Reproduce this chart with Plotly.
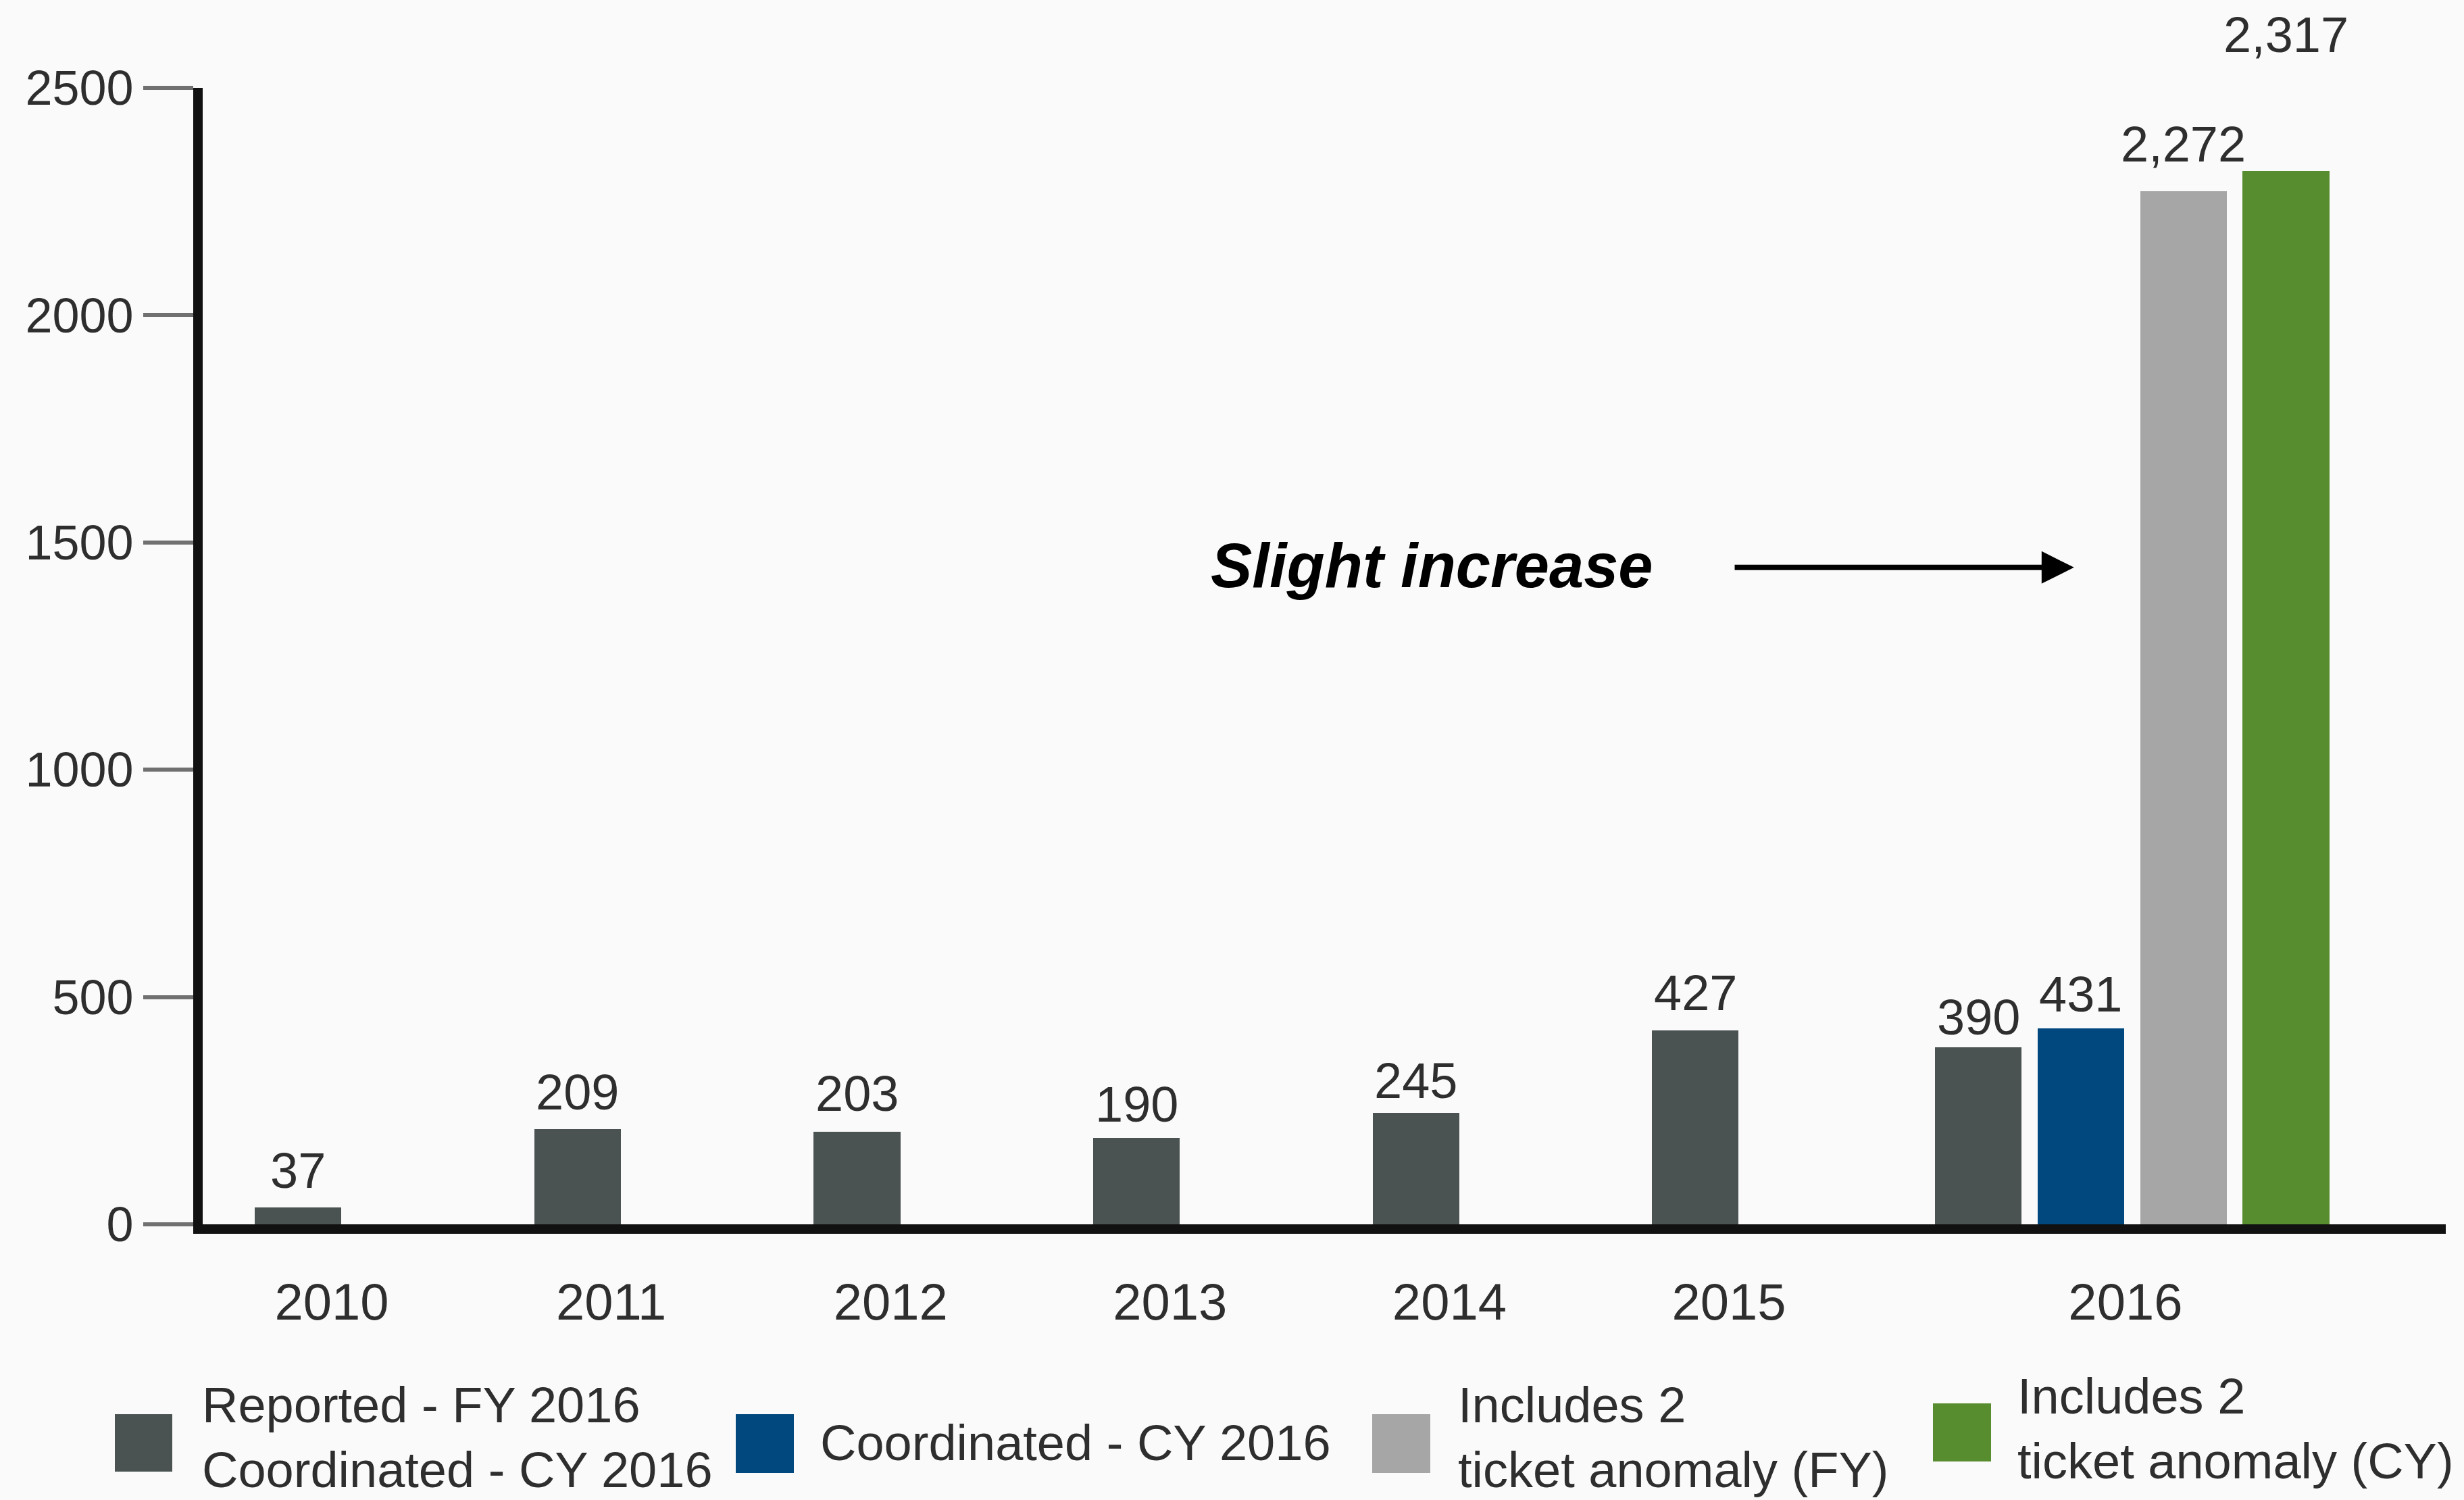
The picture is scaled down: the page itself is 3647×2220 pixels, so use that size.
import plotly.graph_objects as go

# ---------------- data ----------------
years = ["2010", "2011", "2012", "2013", "2014", "2015", "2016"]
reported = [37, 209, 203, 190, 245, 427, 390]
coordinated_2016 = [431]
anomaly_fy_2016 = [2272]
anomaly_cy_2016 = [2317]
series_names = [
    "Reported - FY 2016<br>Coordinated - CY 2016",
    "Coordinated - CY 2016",
    "Includes 2<br>ticket anomaly (FY)",
    "Includes 2<br>ticket anomaly (CY)",
]
y_ticks = [0, 500, 1000, 1500, 2000, 2500]
annotation_text = "Slight increase"

# ---------------- style / layout ----------------
colors = ["#4b5252", "#00487d", "#a6a6a6", "#578d2f"]
FONT = "Liberation Sans, Arial, sans-serif"
TXT = "#2e2e2e"
W, H = 3647, 2220
L, R, T, B = 300, 27, 130, 408
plot_w = W - L - R
plot_h = H - T - B
step_px = 413.6                      # pixel distance between year labels
x_start = -(491 - L) / step_px
x_end = x_start + plot_w / step_px

cat_pos = [0, 1, 2, 3, 4, 5, 6.419]  # tick positions of the year categories
bar_w = 0.31
single_shift = -0.12                 # single bars sit slightly left of their label
group_step = 0.367                   # 2016 slots
group_shift = 0.024
slot_centers = [group_shift + (k - 1.5) * group_step for k in range(4)]

# label vertical offsets (px above bar top)
rep_shift = [55, 55, 57, 50, 48, 55, 44]
other_shift = [51, 70, 202]

fig = go.Figure()

rep_offsets = [single_shift - bar_w / 2] * (len(years) - 1) + [slot_centers[0] - bar_w / 2]
fig.add_trace(go.Bar(x=cat_pos, y=reported, width=bar_w, offset=rep_offsets,
                     marker=dict(color=colors[0], line=dict(width=0)),
                     name=series_names[0], showlegend=False))

others = [coordinated_2016, anomaly_fy_2016, anomaly_cy_2016]
for k, vals in enumerate(others, start=1):
    fig.add_trace(go.Bar(x=[cat_pos[-1]], y=vals, width=bar_w,
                         offset=slot_centers[k] - bar_w / 2,
                         marker=dict(color=colors[k], line=dict(width=0)),
                         name=series_names[k], showlegend=False))

annotations = []
# value labels
for i, v in enumerate(reported):
    off = single_shift if i < len(years) - 1 else slot_centers[0]
    annotations.append(dict(x=cat_pos[i] + off, y=v, xref="x", yref="y",
                            text=f"{v:,}", showarrow=False, yanchor="middle",
                            yshift=rep_shift[i], font=dict(family=FONT, size=74, color=TXT)))
for k, vals in enumerate(others, start=1):
    annotations.append(dict(x=cat_pos[-1] + slot_centers[k], y=vals[0], xref="x", yref="y",
                            text=f"{vals[0]:,}", showarrow=False, yanchor="middle",
                            yshift=other_shift[k - 1], font=dict(family=FONT, size=74, color=TXT)))

# "Slight increase" text and arrow
annotations.append(dict(x=3.936, y=1449, xref="x", yref="y", text=f"<b><i>{annotation_text}</i></b>",
                        showarrow=False, font=dict(family=FONT, size=92, color="#000000")))
annotations.append(dict(x=6.235, y=1445, ax=5.017, ay=1445, xref="x", yref="y", axref="x", ayref="y",
                        text="", showarrow=True, arrowhead=2, arrowsize=1.2, arrowwidth=8,
                        arrowcolor="#000000"))

# manual legend (large square swatches)
def px_x(p):
    return (p - L) / plot_w

def px_y(p):
    return (H - B - p) / plot_h

legend_items = [
    # swatch x0, x1, y0, y1, text x, text y-center
    (170, 255, 2093, 2178, 297, 2127),
    (1089, 1175, 2093, 2180, 1212, 2135),
    (2031, 2117, 2093, 2180, 2156, 2127),
    (2861, 2947, 2077, 2163, 2984, 2114),
]
shapes = []
for k, (sx0, sx1, sy0, sy1, tx, ty) in enumerate(legend_items):
    shapes.append(dict(type="rect", xref="paper", yref="paper",
                       x0=px_x(sx0), x1=px_x(sx1), y0=px_y(sy1), y1=px_y(sy0),
                       fillcolor=colors[k], line=dict(width=0)))
    annotations.append(dict(x=px_x(tx), y=px_y(ty), xref="paper", yref="paper",
                            xanchor="left", yanchor="middle", align="left",
                            text=series_names[k], showarrow=False,
                            font=dict(family=FONT, size=74, color=TXT)))

fig.update_layout(
    width=W, height=H,
    margin=dict(l=L, r=R, t=T, b=B, pad=0),
    paper_bgcolor="#fafafa", plot_bgcolor="#fafafa",
    barmode="overlay",
    bargap=0,
    annotations=annotations,
    shapes=shapes,
    showlegend=False,
    font=dict(family=FONT, size=74, color=TXT),
    xaxis=dict(type="linear", range=[x_start, x_end], tickvals=cat_pos, ticktext=years,
               showgrid=False, zeroline=False, showline=True, linecolor="#111111", linewidth=14,
               ticks="outside", ticklen=36, tickcolor="rgba(0,0,0,0)",
               tickfont=dict(family=FONT, size=76, color=TXT), fixedrange=True),
    yaxis=dict(range=[0, 2500], tickvals=y_ticks, ticktext=[str(t) for t in y_ticks],
               showgrid=False, zeroline=False, showline=True, linecolor="#111111", linewidth=14,
               ticks="outside", ticklen=74, tickwidth=6, tickcolor="#707070",
               tickfont=dict(family=FONT, size=72, color=TXT), fixedrange=True),
)

fig.write_html("out.html")
